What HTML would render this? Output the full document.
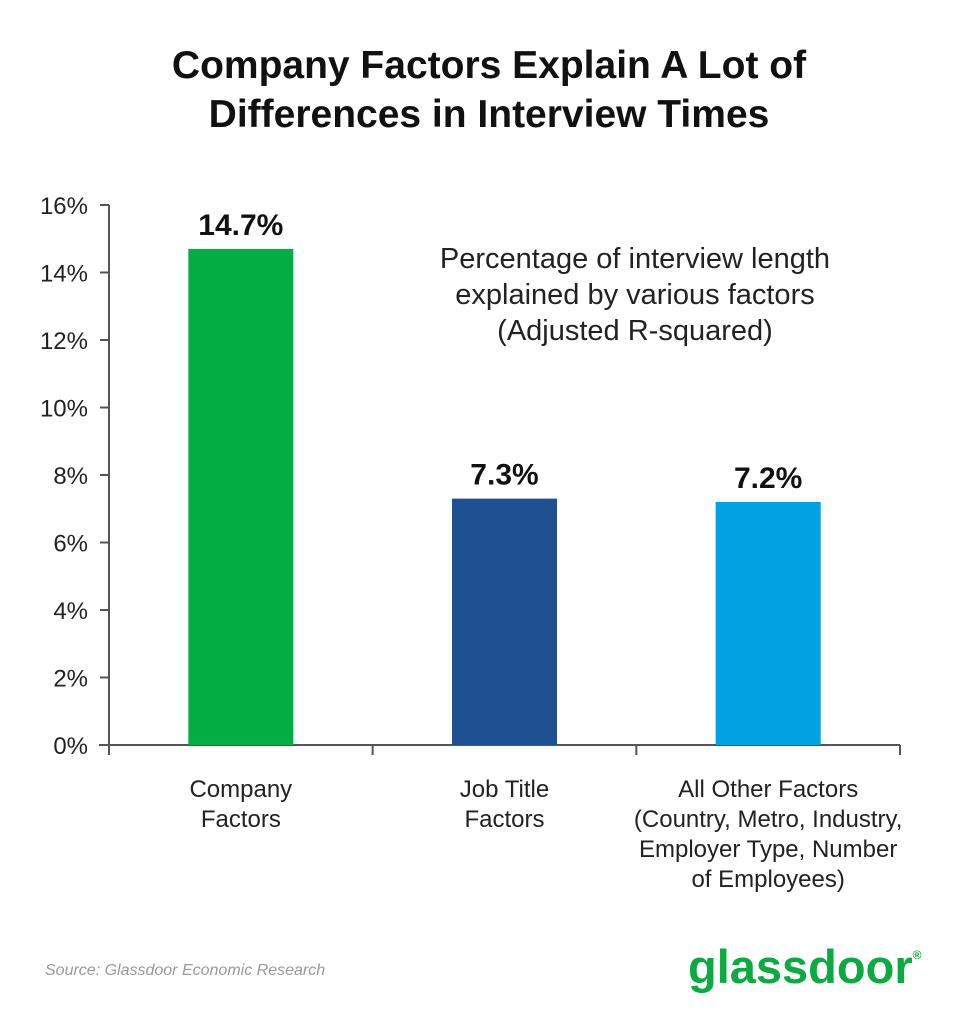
<!DOCTYPE html>
<html><head><meta charset="utf-8"><style>
body{margin:0;background:#fff;width:979px;height:1024px;overflow:hidden;font-family:"Liberation Sans",sans-serif}
</style></head><body>
<svg id="chart" width="979" height="1024">
<text x="489" y="78" text-anchor="middle" font-size="39" font-weight="bold" fill="#111">Company Factors Explain A Lot of</text>
<text x="489" y="127" text-anchor="middle" font-size="39" font-weight="bold" fill="#111">Differences in Interview Times</text>
<g font-size="29" fill="#222" text-anchor="middle">
<text x="635" y="268">Percentage of interview length</text>
<text x="635" y="304">explained by various factors</text>
<text x="635" y="340">(Adjusted R-squared)</text>
</g>
<g id="axes"></g>
<g id="bars"></g>
<text x="45" y="975" font-size="16" font-style="italic" fill="#999">Source: Glassdoor Economic Research</text>
<text x="688" y="983" font-size="47" font-weight="bold" fill="#0caa41">glassdoor<tspan font-size="12" dy="-24">®</tspan></text>
</svg>
<script>
const categories=[["Company","Factors"],["Job Title","Factors"],["All Other Factors","(Country, Metro, Industry,","Employer Type, Number","of Employees)"]];
const values=[14.7,7.3,7.2];
const valueLabels=["14.7%","7.3%","7.2%"];
const colors=["#03ad43","#1f5091","#02a1e2"];
const yTicks=[0,2,4,6,8,10,12,14,16];
const ns="http://www.w3.org/2000/svg";
const x0=109,x1=900,y0=745,yTop=205,yMax=16;
const y=v=>y0-(v/yMax)*(y0-yTop);
const bw=(x1-x0)/categories.length;
const ax=document.getElementById('axes'),bg=document.getElementById('bars');
function mk(tag,a,p){const e=document.createElementNS(ns,tag);for(const k in a)e.setAttribute(k,a[k]);p.appendChild(e);return e;}
let l=mk('line',{x1:x0,x2:x0,y1:yTop,y2:y0,stroke:'#555','stroke-width':2},ax);


l=mk('line',{x1:x0-10,x2:x1,y1:y0,y2:y0,stroke:'#555','stroke-width':2},ax);


yTicks.forEach(t=>{
 mk('line',{x1:x0-9,x2:x0,y1:y(t),y2:y(t),stroke:'#555','stroke-width':2},ax);
 const tx=mk('text',{x:88,y:y(t)+9,'text-anchor':'end','font-size':24,fill:'#222'},ax);
 tx.textContent=t+'%';
 
 
});
for(let i=0;i<=categories.length;i++){const xx=x0+i*bw;mk('line',{x1:xx,x2:xx,y1:y0,y2:y0+10,stroke:'#555','stroke-width':2},ax);}
values.forEach((v,i)=>{
 const cx=x0+bw*(i+0.5),w=105;
 const r=mk('rect',{x:cx-w/2,y:y(v),width:w,height:y0-y(v),fill:colors[i]},bg);
 
 
 const t=mk('text',{x:cx,y:y(v)-14,'text-anchor':'middle','font-size':30,'font-weight':'bold',fill:'#111'},bg);
 t.textContent=valueLabels[i];
 
 
 categories[i].forEach((ln,j)=>{
  const c=mk('text',{x:cx,y:797+j*30,'text-anchor':'middle','font-size':24,fill:'#222'},bg);
  c.textContent=ln;
  
  
 });
});
</script>
</body></html>
